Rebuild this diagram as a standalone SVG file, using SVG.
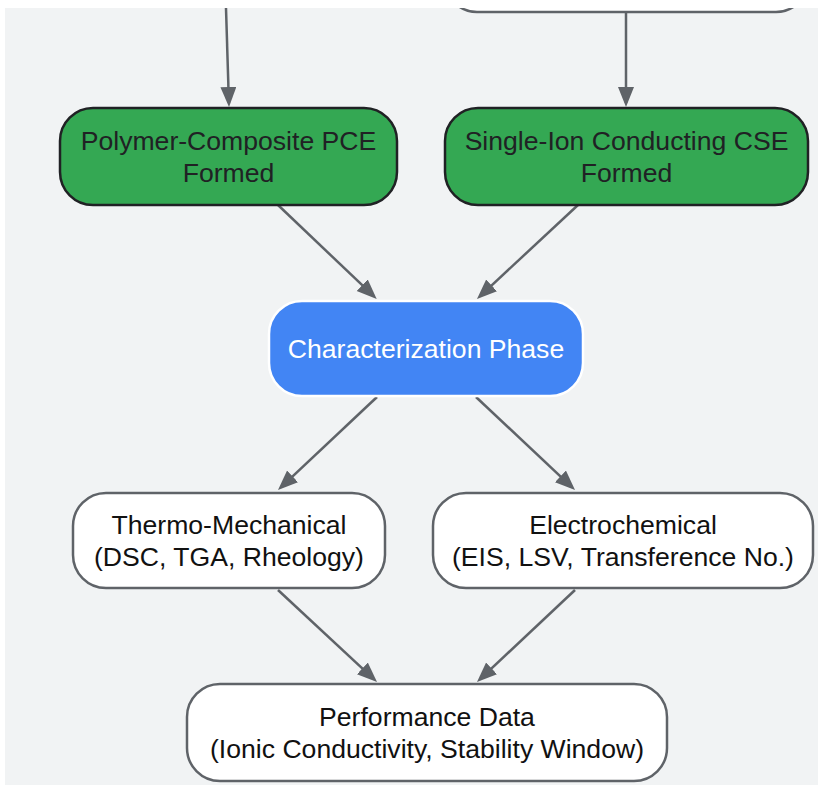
<svg xmlns="http://www.w3.org/2000/svg" width="818" height="786" viewBox="0 0 818 786">
<style>
.t{font-family:"Liberation Sans",Arial,sans-serif;font-size:26.6px;text-anchor:middle}
.green{fill:#34a853;stroke:#202124;stroke-width:2.5}
.blue{fill:#4285f4;stroke:#ffffff;stroke-width:2.5}
.white{fill:#ffffff;stroke:#5f6368;stroke-width:2.5}
.dark{fill:#202124}
.blk{fill:#111111}
.wt{fill:#ffffff}
.edge{fill:none;stroke:#5f6368;stroke-width:2.5}
</style>
<defs>
<marker id="arr" markerUnits="userSpaceOnUse" markerWidth="22" markerHeight="18" refX="16" refY="8" orient="auto">
<path d="M0,0 L20,8 L0,16 Z" fill="#5f6368"/>
</marker>
<clipPath id="cl"><rect x="5" y="8" width="813" height="777"/></clipPath>
</defs>
<rect width="818" height="786" fill="#ffffff"/>
<g clip-path="url(#cl)">
<rect x="5" y="8" width="813" height="777" fill="#f1f3f4"/>
<g id="connectors">
<path class="edge" d="M226,8 L228.9,103" marker-end="url(#arr)"/>
<path class="edge" d="M626,13 L626,103" marker-end="url(#arr)"/>
<path class="edge" d="M278,205 L373.8,296.2" marker-end="url(#arr)"/>
<path class="edge" d="M578,205 L479.9,296.3" marker-end="url(#arr)"/>
<path class="edge" d="M377,397 L280.9,487.3" marker-end="url(#arr)"/>
<path class="edge" d="M476,397 L572.1,487.3" marker-end="url(#arr)"/>
<path class="edge" d="M278,590 L374.1,679.3" marker-end="url(#arr)"/>
<path class="edge" d="M575,590 L479.9,679.3" marker-end="url(#arr)"/>
</g>
<g id="prev">
<rect class="white" x="445" y="-84" width="363" height="96" rx="32"/>
</g>
<g id="pce">
<rect class="green" x="60" y="108" width="337" height="97" rx="33"/>
<text class="t dark" x="228.5" y="150">Polymer-Composite PCE</text>
<text class="t dark" x="228.5" y="182">Formed</text>
</g>
<g id="cse">
<rect class="green" x="445" y="108" width="363" height="97" rx="33"/>
<text class="t dark" x="626.5" y="150">Single-Ion Conducting CSE</text>
<text class="t dark" x="626.5" y="182">Formed</text>
</g>
<g id="char">
<rect class="blue" x="269" y="301" width="314" height="95" rx="33"/>
<text class="t wt" x="426" y="358">Characterization Phase</text>
</g>
<g id="thermo">
<rect class="white" x="73" y="493" width="312" height="95" rx="33"/>
<text class="t blk" x="229" y="534">Thermo-Mechanical</text>
<text class="t blk" x="229" y="566">(DSC, TGA, Rheology)</text>
</g>
<g id="electro">
<rect class="white" x="433" y="493" width="380" height="95" rx="33"/>
<text class="t blk" x="623" y="534">Electrochemical</text>
<text class="t blk" x="623" y="566">(EIS, LSV, Transference No.)</text>
</g>
<g id="perf">
<rect class="white" x="187" y="684" width="480" height="97" rx="33"/>
<text class="t blk" x="427" y="726">Performance Data</text>
<text class="t blk" x="427" y="758">(Ionic Conductivity, Stability Window)</text>
</g>
</g>
</svg>
